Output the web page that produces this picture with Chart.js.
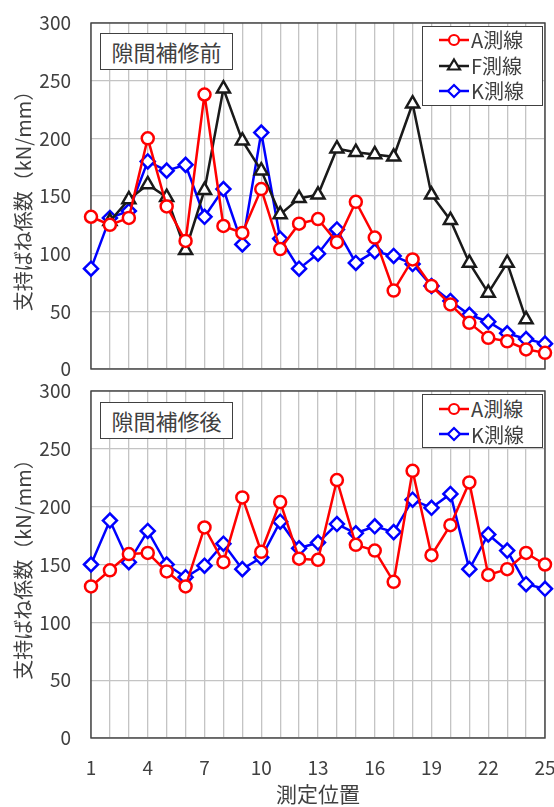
<!DOCTYPE html>
<html>
<head>
<meta charset="utf-8">
<script src="https://cdn.jsdelivr.net/npm/chart.js@4.4.0/dist/chart.umd.min.js"></script>
<style>
  body { margin: 0; background: #fff; font-family: "Noto Sans CJK JP", sans-serif; }
  #wrap { position: relative; width: 554px; height: 807px; overflow: hidden; }
  canvas { position: absolute; left: 0; }
  #c1 { top: 0; }
  #c2 { top: 380px; }
  .tbox { position: absolute; left: 100px; width: 131px; height: 35px; border: 1.5px solid #404040; background: #fff;
          color: #404040; font-size: 22px; line-height: 35px; text-align: center; }
  .legend { position: absolute; left: 422px; width: 119px; border: 1.5px solid #404040; background: #fff;
            color: #404040; font-size: 20px; }
  .legend .row { height: 25.5px; display: flex; align-items: center; padding-left: 16px; }
  .legend svg { margin-right: 2px; }
</style>
</head>
<body>
<div id="wrap">
  <canvas id="c1" width="554" height="380"></canvas>
  <canvas id="c2" width="554" height="427"></canvas>

  <div class="tbox" style="top:33px">隙間補修前</div>
  <div class="tbox" style="top:402px">隙間補修後</div>

  <div class="legend" style="top:26px;padding:0 0 1px 0">
    <div class="row"><svg width="30" height="16"><line x1="0" y1="8" x2="30" y2="8" stroke="#ff0000" stroke-width="2.5"/><circle cx="15" cy="8" r="5" fill="#fff" stroke="#ff0000" stroke-width="2.2"/></svg>A測線</div>
    <div class="row"><svg width="30" height="16"><line x1="0" y1="9" x2="30" y2="9" stroke="#1a1a1a" stroke-width="2.5"/><polygon points="15,2.5 21,12.5 9,12.5" fill="#fff" stroke="#1a1a1a" stroke-width="2.2"/></svg>F測線</div>
    <div class="row"><svg width="30" height="16"><line x1="0" y1="8" x2="30" y2="8" stroke="#0000ff" stroke-width="2.5"/><polygon points="15,2 21,8 15,14 9,8" fill="#fff" stroke="#0000ff" stroke-width="2.2"/></svg>K測線</div>
  </div>
  <div class="legend" style="top:394px;padding:1px 0 0 0">
    <div class="row"><svg width="30" height="16"><line x1="0" y1="8" x2="30" y2="8" stroke="#ff0000" stroke-width="2.5"/><circle cx="15" cy="8" r="5" fill="#fff" stroke="#ff0000" stroke-width="2.2"/></svg>A測線</div>
    <div class="row"><svg width="30" height="16"><line x1="0" y1="8" x2="30" y2="8" stroke="#0000ff" stroke-width="2.5"/><polygon points="15,2 21,8 15,14 9,8" fill="#fff" stroke="#0000ff" stroke-width="2.2"/></svg>K測線</div>
  </div>
</div>

<script>
// 測定位置
const positions = ['1','2','3','4','5','6','7','8','9','10','11','12','13','14','15','16','17','18','19','20','21','22','23','24','25'];

// 隙間補修前
const beforeA = [132,125,131,200,141,111,238,124,118,156,104,126,130,110,145,114,68,95,72,56,40,27,24,17,14];
const beforeF = [null,128,147,160,149,103,155,243,198,172,134,148,151,191,188,186,184,230,151,129,92,66,92,43,null];
const beforeK = [87,131,137,180,172,177,132,156,108,205,113,87,100,121,92,102,98,91,72,59,47,41,31,26,22];

// 隙間補修後
const afterA = [131,145,159,160,144,131,182,152,208,161,204,155,154,223,167,162,135,231,158,184,221,141,146,160,150];
const afterK = [150,188,152,179,150,139,149,168,146,156,187,164,169,185,177,183,178,206,199,211,146,176,162,133,129];

const yTitle = '支持ばね係数（kN/mm）';
const xTitle = '測定位置';

Chart.defaults.font.family = '"Noto Sans CJK JP", sans-serif';
Chart.defaults.color = '#404040';

const plotBorder = {
  id: 'plotBorder',
  beforeDatasetsDraw(chart) {
    const { ctx, chartArea: a } = chart;
    ctx.save();
    ctx.strokeStyle = '#404040';
    ctx.lineWidth = 1.4;
    ctx.strokeRect(a.left, a.top, a.right - a.left, a.bottom - a.top);
    ctx.restore();
  }
};

const serie = (label, data, color, style, radius) => ({
  label, data,
  borderColor: color,
  borderWidth: 2.5,
  pointStyle: style,
  pointRadius: radius,
  pointBorderWidth: 2.5,
  pointBackgroundColor: '#fff',
  pointBorderColor: color,
  tension: 0,
  clip: false
});

function criarGrafico(id, datasets, comRotulos, padTop, xHeight) {
  return new Chart(id, {
    type: 'line',
    data: { labels: positions, datasets },
    options: {
      responsive: false,
      animation: false,
      events: [],
      layout: { autoPadding: false, padding: { top: padTop, right: 9, bottom: 0, left: 0 } },
      plugins: { legend: { display: false }, tooltip: { enabled: false } },
      scales: {
        x: {
          offset: false,
          grid: { color: '#c4c4c4', lineWidth: 1.3, drawTicks: false },
          border: { display: false },
          ticks: {
            autoSkip: false, maxRotation: 0, padding: 18,
            font: { size: 19 }, color: '#404040',
            callback: (v, i) => (comRotulos && i % 3 === 0) ? positions[i] : ''
          },
          title: { display: comRotulos, text: xTitle, font: { size: 21 }, color: '#404040', padding: { top: 0, bottom: 0 } },
          afterFit: (s) => { s.height = xHeight; s.paddingLeft = 0; s.paddingRight = 0; }
        },
        y: {
          min: 0, max: 300,
          grid: { color: '#c4c4c4', lineWidth: 1.3, drawTicks: false },
          border: { display: false },
          ticks: { stepSize: 50, padding: 20, font: { size: 19 }, color: '#404040' },
          title: { display: true, text: yTitle, font: { size: 20 }, color: '#404040', padding: { top: 11, bottom: 0 } },
          afterFit: (s) => { s.width = 91; s.paddingTop = 0; s.paddingBottom = 0; }
        }
      }
    },
    plugins: [plotBorder]
  });
}

criarGrafico('c1', [
  serie('A測線', beforeA, '#ff0000', 'circle', 6),
  serie('F測線', beforeF, '#1a1a1a', 'triangle', 7.5),
  serie('K測線', beforeK, '#0000ff', 'rectRot', 7)
], false, 23, 11);

criarGrafico('c2', [
  serie('A測線', afterA, '#ff0000', 'circle', 6),
  serie('K測線', afterK, '#0000ff', 'rectRot', 7)
], true, 11, 69);
</script>
</body>
</html>
